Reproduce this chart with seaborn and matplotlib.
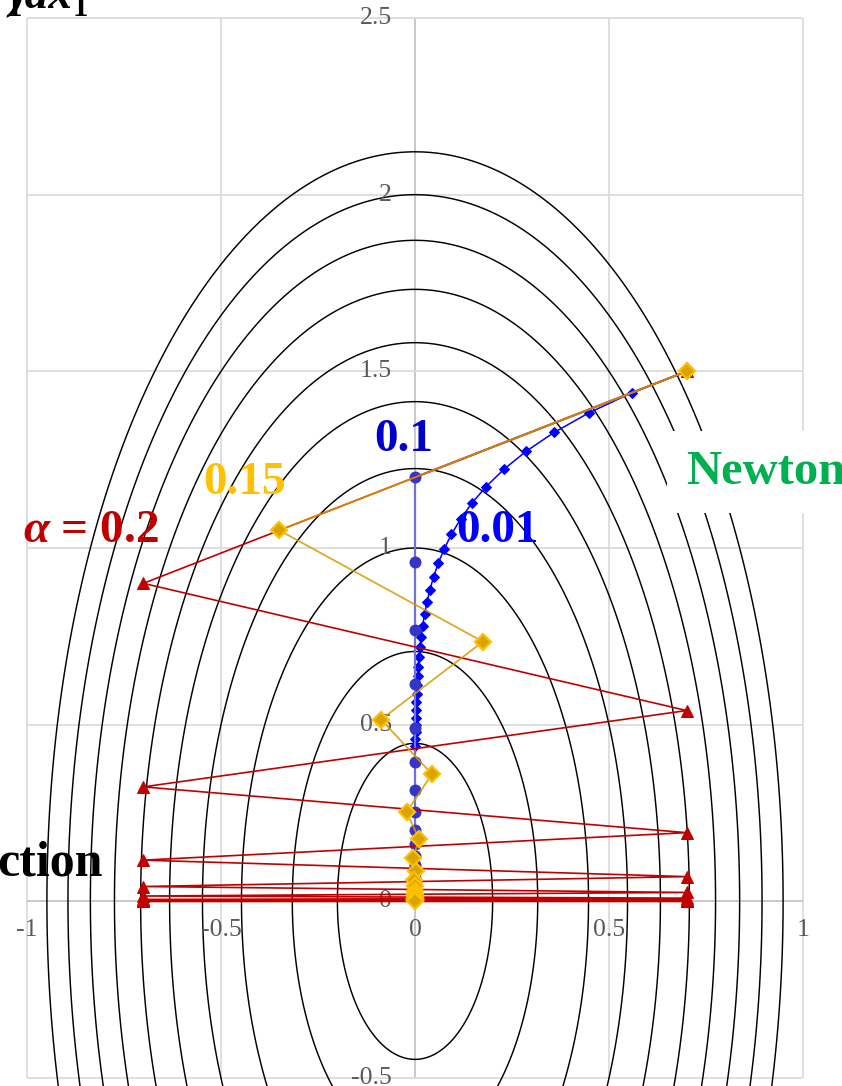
import numpy as np
import matplotlib
matplotlib.use("Agg")
import matplotlib.pyplot as plt
import seaborn as sns
import pandas as pd

# Gradient-descent iterates on f(x1, x2) = 5*x1^2 + x2^2, all started at (0.7, 1.5)
a001_x = [0.7, 0.56, 0.448, 0.3584, 0.2867, 0.2294, 0.1835, 0.1468, 0.1174, 0.0940,
          0.0752, 0.0601, 0.0481, 0.0385, 0.0308, 0.0246, 0.0197, 0.0158, 0.0126, 0.0101,
          0.0081, 0.0065, 0.0052, 0.0041, 0.0033, 0.0026, 0.0021, 0.0017, 0.0014, 0.0011, 0.0009]
a001_y = [1.5, 1.44, 1.3824, 1.3271, 1.2740, 1.2231, 1.1741, 1.1272, 1.0821, 1.0388,
          0.9972, 0.9574, 0.9191, 0.8823, 0.8470, 0.8131, 0.7806, 0.7494, 0.7194, 0.6906,
          0.6630, 0.6365, 0.6110, 0.5866, 0.5631, 0.5406, 0.5190, 0.4982, 0.4783, 0.4592, 0.4408]

a01_x = [0.7] + [0.0] * 24
a01_y = [1.5, 1.2, 0.96, 0.768, 0.6144, 0.4915, 0.3932, 0.3146, 0.2517, 0.2013,
         0.1611, 0.1288, 0.1031, 0.0825, 0.0660, 0.0528, 0.0422, 0.0338, 0.0270, 0.0216,
         0.0173, 0.0138, 0.0111, 0.0089, 0.0071]

a015_x = [0.7, -0.35, 0.175, -0.0875, 0.04375, -0.021875, 0.010938, -0.005469, 0.002734,
          -0.001367, 0.000684, -0.000342, 0.000171, -0.000085, 0.000043, -0.000021, 0.000011,
          -0.000005, 0.000003, -0.000001]
a015_y = [1.5, 1.05, 0.735, 0.5145, 0.36015, 0.2521, 0.17647, 0.12353, 0.086472, 0.06053,
          0.042371, 0.02966, 0.020762, 0.014533, 0.010173, 0.007121, 0.004985, 0.003489,
          0.002443, 0.00171]

a02_x = [0.7, -0.7, 0.7, -0.7, 0.7, -0.7, 0.7, -0.7, 0.7, -0.7, 0.7, -0.7, 0.7, -0.7, 0.7, -0.7,
         0.7, -0.7, 0.7, -0.7]
a02_y = [1.5, 0.9, 0.54, 0.324, 0.1944, 0.11664, 0.069984, 0.04199, 0.025194, 0.015117,
         0.00907, 0.005442, 0.003265, 0.001959, 0.001176, 0.000705, 0.000423, 0.000254,
         0.000152, 0.000091]

# Quadratic f = cx1*x1^2 + cx2*x2^2 and its drawn level sets
f_coef = [5.0, 1.0]
contour_levels = [0.2, 0.5, 1.0, 1.5, 2.0, 2.5, 3.0, 3.5, 4.0, 4.5]

x_ticks = [-1, -0.5, 0, 0.5, 1]
x_tick_labels = ["-1", "-0.5", "0", "0.5", "1"]
y_ticks = [-0.5, 0, 0.5, 1, 1.5, 2, 2.5]
y_tick_labels = ["-0.5", "0", "0.5", "1", "1.5", "2", "2.5"]

sns.set_theme(style="white")
plt.rcParams["font.family"] = ["Liberation Serif", "DejaVu Serif"]
plt.rcParams["mathtext.fontset"] = "custom"
plt.rcParams["mathtext.it"] = "Liberation Serif:italic:bold"
plt.rcParams["mathtext.rm"] = "Liberation Serif:bold"

W, H = 842, 1086
fig = plt.figure(figsize=(W / 100, H / 100), dpi=100)
ax = fig.add_axes([0, 0, 1, 1])
ax.set_xlim(-1.0696, 1.1005)
ax.set_ylim(-0.5226, 2.551)
ax.axis("off")

grid_c = "#D9D9D9"
axis_c = "#BFBFBF"
for xv in x_ticks:
    ax.vlines(xv, y_ticks[0], y_ticks[-1], color=axis_c if xv == 0 else grid_c, lw=1.2, zorder=0)
for yv in y_ticks:
    ax.hlines(yv, x_ticks[0], x_ticks[-1], color=axis_c if yv == 0 else grid_c, lw=1.2, zorder=0)

# level sets
gx = np.linspace(-1.2, 1.2, 900)
gy = np.linspace(-0.7, 2.7, 1200)
GX, GY = np.meshgrid(gx, gy)
F = f_coef[0] * GX ** 2 + f_coef[1] * GY ** 2
ax.contour(GX, GY, F, levels=contour_levels, colors="black", linewidths=1.05, zorder=1)

tick_c = "#595959"
for xv, lab in zip(x_ticks, x_tick_labels):
    ax.text(xv, -0.08, lab, ha="center", va="center", fontsize=18.5, color=tick_c, zorder=2)
for yv, lab in zip(y_ticks, y_tick_labels):
    ax.text(-0.06, yv, lab, ha="right", va="center", fontsize=18.5, color=tick_c, zorder=2)

# alpha = 0.01
sns.lineplot(x=a001_x, y=a001_y, sort=False, estimator=None, ax=ax, color="#0000FF",
             lw=1.1, marker="D", markersize=5.4, markeredgecolor="#0000FF",
             markerfacecolor="#0000FF", zorder=3)
# alpha = 0.1
sns.lineplot(x=a01_x, y=a01_y, sort=False, estimator=None, ax=ax, color="#7272D2",
             lw=1.6, zorder=3)
sns.scatterplot(x=a01_x, y=a01_y, ax=ax, color="#3636C6", s=75, linewidth=0, zorder=4)
# alpha = 0.2
sns.lineplot(x=a02_x, y=a02_y, sort=False, estimator=None, ax=ax, color="#C00000",
             lw=1.2, marker="^", markersize=8, markeredgecolor="#C00000",
             markerfacecolor="#C00000", zorder=5)
# alpha = 0.15
sns.lineplot(x=a015_x, y=a015_y, sort=False, estimator=None, ax=ax, color="#D99A00",
             lw=1.3, alpha=0.85, zorder=6)
ax.plot(a015_x, a015_y, ls="none", marker="D", markersize=8, markerfacecolor="#D9A300",
        markeredgecolor="#FFC000", markeredgewidth=1.6, zorder=7)


def ftext(px, py, s, **kw):
    fig.text(px / W, 1 - py / H, s, **kw)


lab_kw = dict(fontsize=34, fontweight="bold", va="center")
ftext(404, 440, "0.1", color="#0000CC", ha="center", **lab_kw)
ftext(498, 531, "0.01", color="#0000FF", ha="center", **lab_kw)
ftext(245, 483, "0.15", color="#FFC000", ha="center", **lab_kw)
ftext(91, 531, r"$\alpha$ = 0.2", color="#C00000", ha="center", **lab_kw)
ftext(686, 472, "Newton", color="#00B050", ha="left", fontsize=35, fontweight="bold",
      va="center", bbox=dict(facecolor="white", edgecolor="none", pad=14), zorder=10)
ftext(-3, 863, "ction", color="black", ha="left", fontsize=36, fontweight="bold", va="center")

# heading fragment along the top edge
ftext(73, 8, ")dx", color="black", ha="right", va="baseline", fontsize=34,
      fontweight="bold", style="italic")
ftext(14, 16, "1", color="black", ha="center", va="baseline", fontsize=22, fontweight="bold")
ftext(80, 16, "1", color="black", ha="center", va="baseline", fontsize=22, fontweight="bold")

fig.savefig("out.png", dpi=100)
